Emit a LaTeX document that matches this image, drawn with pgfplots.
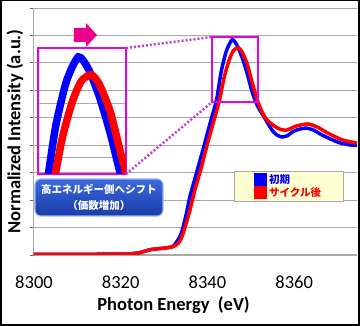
\documentclass[border=0pt]{standalone}
\usepackage{fontspec}
\setmainfont{Carlito}
\newfontfamily\jp{Noto Sans CJK JP}
\usepackage{pgfplots}
\usepackage{pgfplotstable}
\pgfplotsset{compat=1.18}
\definecolor{mag}{HTML}{E600E6}
\definecolor{dotc}{HTML}{C83CD2}
\definecolor{gridc}{HTML}{A8A8A8}
\definecolor{boxtop}{HTML}{3A6AE0}
\definecolor{boxbot}{HTML}{1A3CA8}
\definecolor{boxborder}{HTML}{9CB2EE}
\definecolor{legfill}{HTML}{FFFFD2}

\pgfplotstableread{
E V
8300 0.005
8310 0.005
8318 0.006
8322 0.008
8324.5 0.018
8327 0.040
8330 0.050
8332 0.062
8333 0.10
8334 0.16
8335 0.28
8336 0.43
8337.5 0.60
8339 0.77
8340.7 0.97
8342.1 1.13
8343.2 1.34
8344.4 1.49
8345.7 1.569
8346.8 1.53
8348 1.44
8349.2 1.32
8350.3 1.19
8351.5 1.09
8353.1 1.005
8354.9 0.91
8356 0.875
8357.2 0.86
8358.5 0.87
8359.5 0.895
8361 0.915
8362.8 0.925
8364.5 0.91
8366.4 0.875
8370.3 0.82
8373.3 0.80
8374.5 0.80
}\bluedata

\pgfplotstableread{
E V
8300 0.005
8310 0.005
8318 0.006
8322 0.008
8324.5 0.018
8327 0.040
8330 0.050
8332 0.060
8333.3 0.085
8334.2 0.14
8335 0.22
8336 0.33
8337 0.46
8338.6 0.64
8340 0.81
8341.5 0.98
8342.8 1.13
8343.9 1.30
8345 1.42
8346 1.49
8347.1 1.511
8348 1.48
8349.2 1.39
8350.3 1.26
8351.5 1.13
8352.5 1.05
8353.6 0.99
8355 0.95
8356.5 0.92
8358.2 0.91
8360.5 0.94
8363.2 0.955
8365.5 0.93
8367.4 0.895
8371 0.84
8374.5 0.815
}\reddata

\begin{document}
\begin{tikzpicture}
\useasboundingbox (0,0) rectangle (360pt,-326pt);
\fill[white] (0,0) rectangle (360pt,-326pt);
\begin{axis}[
  name=main,
  at={(34pt,-255pt)}, anchor=south west,
  scale only axis, width=323pt, height=247pt,
  xmin=8300, xmax=8374.5, ymin=0, ymax=1.8,
  xtick={8300,8320,8340,8360},
  ytick={0,0.2,0.4,0.6,0.8,1.0,1.2,1.4,1.6,1.8},
  yticklabels={},
  ymajorgrids, major grid style={gridc, line width=0.9pt},
  axis x line*=bottom, axis y line*=left,
  axis line style={gridc, line width=1pt, -},
  tick align=outside,
  xtick style={draw=none},
  ytick style={draw=black!60, line width=0.8pt}, major tick length=4pt,
  /pgf/number format/assume math mode=true,
  /pgf/number format/1000 sep={},
  ticklabel style={font=\fontsize{18.5}{22}\selectfont},
  xticklabel style={yshift=-13pt},
  xlabel={Photon Energy~ (eV)},
  xlabel style={at={(axis description cs:0.432,-0.2045)}, anchor=center, font=\bfseries\fontsize{18.5}{22}\selectfont},
  ylabel={Normalized Intensity (a.u.)},
  ylabel style={at={(axis description cs:-0.0588,0.5)}, anchor=center, font=\bfseries\fontsize{18.5}{22}\selectfont},
  legend style={at={(rel axis cs:0.619,0.340)}, anchor=north west, fill=legfill, draw=gridc,
    font=\jp\bfseries\fontsize{10.5}{12}\selectfont, inner xsep=20pt, inner ysep=1pt, row sep=-1pt},
  legend cell align=left,
  legend image code/.code={\fill[#1] (0pt,-4.5pt) rectangle (9.5pt,5pt);},
]
\addplot[blue, line width=3.5pt, smooth, tension=0.4] table[x=E,y=V]{\bluedata};
\addlegendentry{\textcolor{blue}{初期}}
\addplot[red, line width=3.5pt, smooth, tension=0.4] table[x=E,y=V]{\reddata};
\addlegendentry{\textcolor{red}{サイクル後}}
\draw[mag, line width=1.5pt] (axis cs:8341.1,1.115) rectangle (axis cs:8351.7,1.589);
\coordinate (btl) at (axis cs:8341.1,1.589);
\coordinate (bbl) at (axis cs:8341.1,1.115);
\end{axis}
\begin{axis}[
  name=inset,
  at={(38pt,-174pt)}, anchor=south west,
  scale only axis, width=88pt, height=126pt,
  xmin=8341.3, xmax=8350.9, ymin=1.19, ymax=1.598,
  xtick=\empty, ytick={1.245,1.417}, yticklabels={},
  ytick style={draw=none},
  ymajorgrids, major grid style={gridc, line width=0.8pt},
  axis line style={mag, line width=1.5pt},
]
\addplot[blue, line width=7.5pt, smooth, tension=0.4] table[x=E,y=V]{\bluedata};
\addplot[red, line width=7.5pt, smooth, tension=0.4] table[x=E,y=V]{\reddata};
\coordinate (itr) at (rel axis cs:1,1);
\coordinate (ibr) at (rel axis cs:1,0);
\end{axis}
\draw[dotc, line width=2.5pt, dash pattern=on 2pt off 2pt] (itr) -- (btl);
\draw[dotc, line width=2.5pt, dash pattern=on 2pt off 2pt] (ibr) -- (bbl);
\fill[magenta] (74pt,-28pt) -- (86pt,-28pt) -- (86pt,-23pt) -- (97pt,-35pt) -- (86pt,-47pt) -- (86pt,-42pt) -- (74pt,-42pt) -- cycle;
\shade[top color=boxtop, bottom color=boxbot, rounded corners=6pt, draw=boxborder, line width=1.2pt] (35pt,-179pt) rectangle (163pt,-216pt);
\node[white, font=\jp\bfseries\fontsize{10.5}{16}\selectfont, align=center] at (99pt,-197.5pt) {高エネルギー側へシフト\\（価数増加）};
\draw[black, line width=1.5pt] (0.75pt,-0.75pt) rectangle (359.25pt,-325.25pt);
\end{tikzpicture}
\end{document}
